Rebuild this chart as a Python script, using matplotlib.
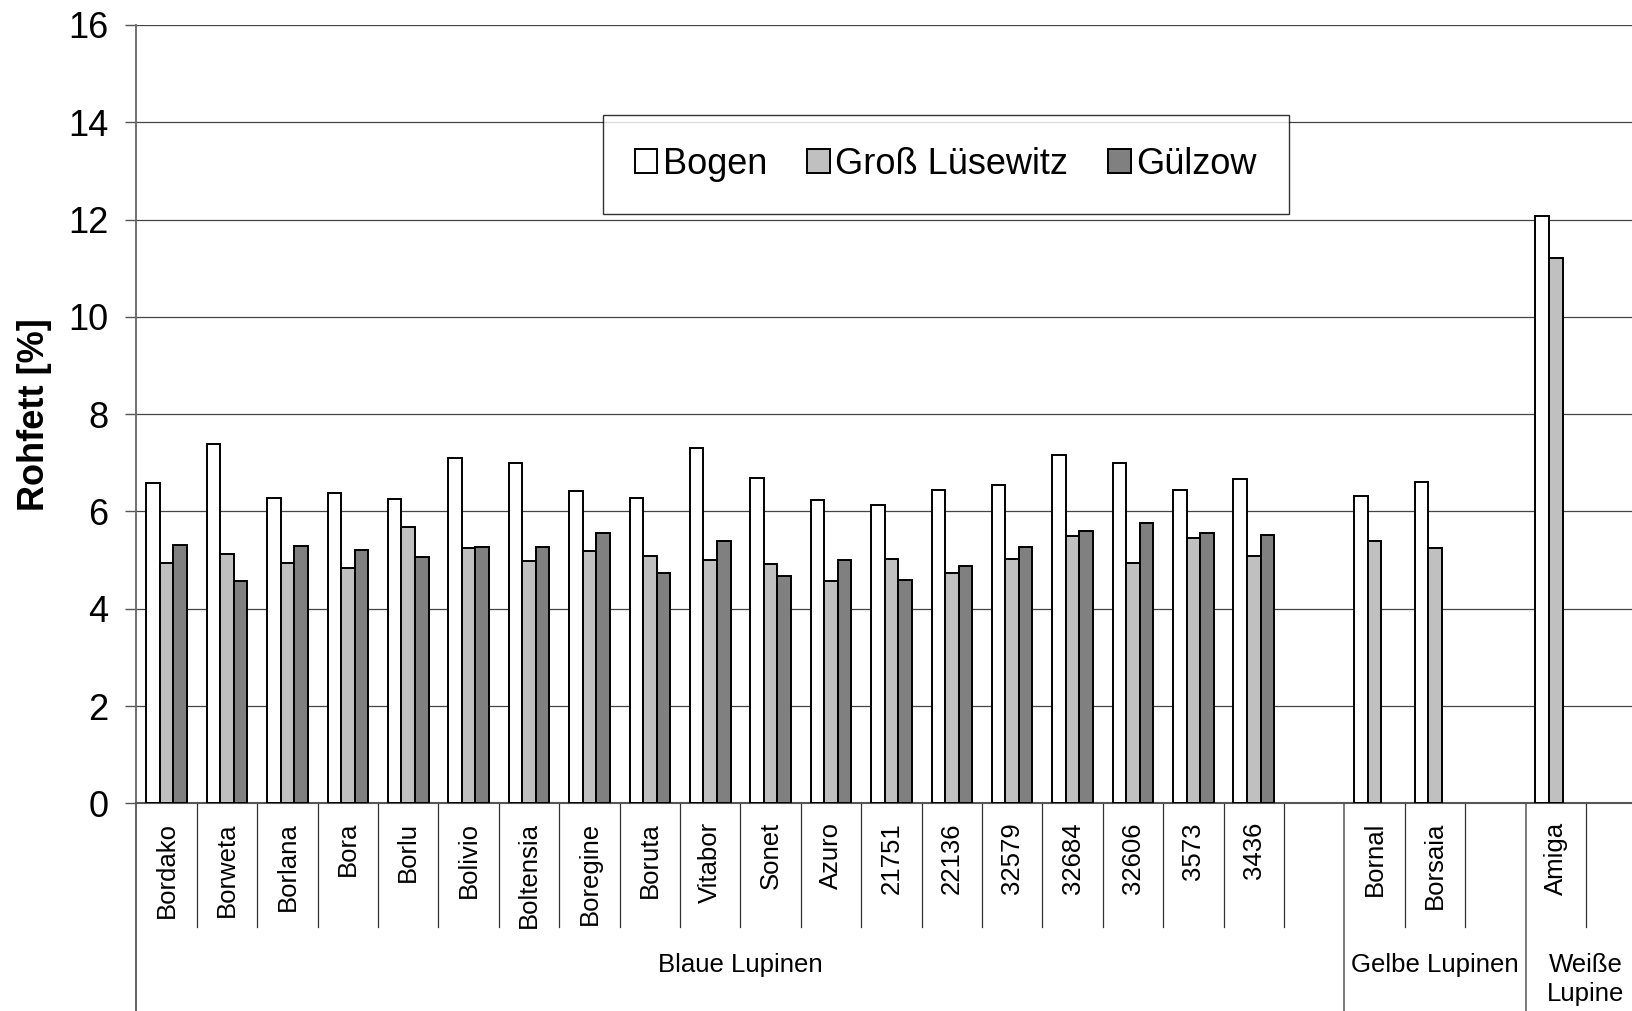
import numpy as np
import matplotlib.pyplot as plt

plt.rcParams['font.family'] = ['Liberation Sans', 'DejaVu Sans']

# categories (empty strings = empty slots between the lupin groups)
sorten = ['Bordako', 'Borweta', 'Borlana', 'Bora', 'Borlu', 'Bolivio', 'Boltensia',
          'Boregine', 'Boruta', 'Vitabor', 'Sonet', 'Azuro', '21751', '22136',
          '32579', '32684', '32606', '3573', '3436', '',
          'Bornal', 'Borsaia', '',
          'Amiga', '']
nan = np.nan
bogen = [6.58, 7.38, 6.28, 6.37, 6.25, 7.10, 7.00, 6.42, 6.27, 7.30, 6.68, 6.23,
         6.14, 6.44, 6.54, 7.16, 7.00, 6.45, 6.66, nan, 6.32, 6.61, nan, 12.07, nan]
gross_luesewitz = [4.95, 5.12, 4.94, 4.84, 5.68, 5.25, 4.98, 5.19, 5.09, 5.01, 4.93,
                   4.58, 5.03, 4.74, 5.03, 5.50, 4.95, 5.46, 5.09, nan, 5.39, 5.25,
                   nan, 11.22, nan]
guelzow = [5.31, 4.58, 5.28, 5.20, 5.06, 5.27, 5.26, 5.55, 4.73, 5.39, 4.68, 5.00,
           4.59, 4.87, 5.27, 5.60, 5.77, 5.55, 5.51, nan, nan, nan, nan, nan, nan]
serien = ['Bogen', 'Groß Lüsewitz', 'Gülzow']
farben = ['white', '#c0c0c0', '#808080']

# groups: (label, first slot, last slot + 1)
gruppen = [('Blaue Lupinen', 0, 20), ('Gelbe Lupinen', 20, 23), ('Weiße\nLupine', 23, 25)]

fig = plt.figure(figsize=(16.32, 10.11), dpi=100)
ax = fig.add_axes([0.0836, 0.2054, 0.9252, 0.7699])

n = len(sorten)
x = np.arange(n) + 0.5
bw = 0.224
for k, (werte, name, col) in enumerate(zip([bogen, gross_luesewitz, guelzow], serien, farben)):
    werte = np.array(werte, dtype=float)
    m = ~np.isnan(werte)
    ax.bar(x[m] + (k - 1) * bw, werte[m], width=bw, color=col, edgecolor='black',
           linewidth=1.4, label=name, zorder=3)

ax.set_xlim(0, n)
ax.set_ylim(0, 16)
ax.set_yticks(np.arange(0, 17, 2))
ax.yaxis.grid(True, color='#444444', linewidth=0.9)
ax.set_axisbelow(True)
ax.tick_params(axis='y', labelsize=26, length=8, width=1, color='#555555', pad=12)
ax.set_xticks([])
for s in ['top', 'right']:
    ax.spines[s].set_visible(False)
ax.spines['left'].set_color('#666666')
ax.spines['left'].set_linewidth(1.3)
ax.spines['bottom'].set_color('#555555')
ax.spines['bottom'].set_linewidth(1.5)
ax.set_ylabel('Rohfett [%]', fontsize=26, fontweight='bold', labelpad=12)

trans = ax.get_xaxis_transform()
# category separators below the axis
starts = [g[1] for g in gruppen]
for b in range(1, n + 1):
    if b in starts:
        continue
    ax.plot([b, b], [0, -0.159], transform=trans, color='#333333', lw=0.9, clip_on=False)
# group separators down to the bottom edge
for b in starts:
    ax.plot([b, b], [0, -0.27], transform=trans, color='#555555', lw=1.1 if b else 1.3,
            clip_on=False)

for xi, name in zip(x, sorten):
    if name:
        ax.text(xi, -0.024, name, transform=trans, rotation=90, ha='center', va='top',
                fontsize=18.5)
for label, a, b in gruppen:
    ax.text((a + b) / 2, -0.192, label, transform=trans, ha='center', va='top',
            fontsize=18.5, linespacing=1.25)

leg = ax.legend(loc='center', bbox_to_anchor=(0.536, 0.821), ncol=3, fontsize=26,
                frameon=True, fancybox=False, edgecolor='black', borderpad=0.88,
                handlelength=0.62, handleheight=0.62, handletextpad=0.15,
                columnspacing=1.12, borderaxespad=0)
leg.get_frame().set_linewidth(1.0)
for h in leg.legend_handles:
    h.set_linewidth(1.4)

fig.savefig('out.png', dpi=100)
